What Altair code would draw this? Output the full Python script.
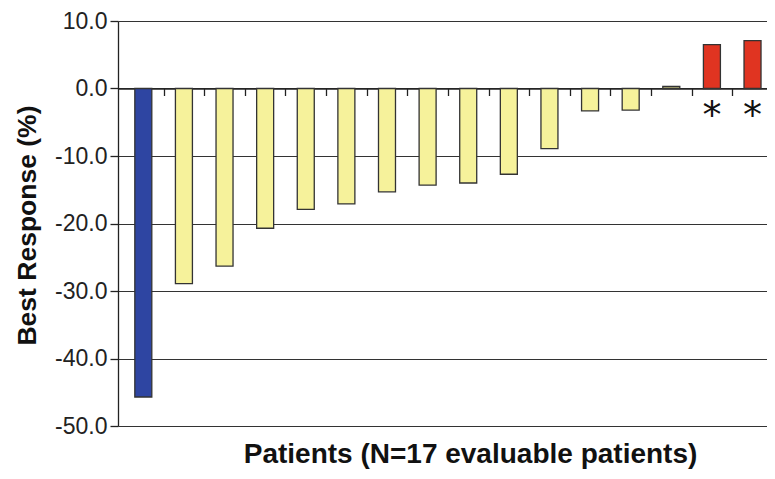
import altair as alt
import pandas as pd

patients = list(range(1, 17))
best_response = [-45.7, -28.9, -26.3, -20.7, -17.9, -17.1, -15.3, -14.3,
                 -14.0, -12.7, -8.9, -3.3, -3.2, 0.3, 6.5, 7.1]
group = ["blue"] + ["yellow"] * 13 + ["red"] * 2
star_patients = [15, 16]
star_text = ["*", "*"]
y_ticks = [-50, -40, -30, -20, -10, 0, 10]
x_tick_positions = [p + 0.5 for p in patients[:-1]]

df = pd.DataFrame({"patient": patients, "value": best_response, "group": group})
stars = pd.DataFrame({"patient": star_patients, "t": star_text, "y": [0, 0]})

H = 405
W = 649
BAND = 41.25
zero_offset = -H * 50 / 60

xscale = alt.Scale(domain=[0.5, 0.5 + W / BAND], nice=False, zero=False)

bars = alt.Chart(df).mark_bar(size=17, stroke="#333333", strokeWidth=1.3).encode(
    x=alt.X("patient:Q", scale=xscale,
            axis=alt.Axis(orient="bottom", offset=zero_offset, labels=False, ticks=True,
                          values=x_tick_positions,
                          tickSize=7, tickColor="#222222", tickWidth=1.3,
                          domain=True, domainColor="#222222", domainWidth=1.3, grid=False,
                          title="Patients (N=17 evaluable patients)",
                          titleFont="Liberation Sans", titleFontSize=28, titleFontWeight="bold",
                          titleColor="#111111", titleX=352, titleY=374,
                          titleBaseline="alphabetic",
                          titleAnchor="start", titleAlign="center")),
    y=alt.Y("value:Q", scale=alt.Scale(domain=[-50, 10], nice=False, zero=False),
            axis=alt.Axis(values=y_ticks, grid=True, gridColor="#333333", gridWidth=1.2,
                          domain=True, domainColor="#222222", domainWidth=1.3,
                          tickColor="#222222", tickSize=8, tickWidth=1.3,
                          labelFont="Liberation Sans", labelFontSize=23, labelColor="#222222",
                          labelPadding=3,
                          labelExpr="datum.value < 0 ? '-' + format(-datum.value, '.1f') : format(datum.value, '.1f')",
                          title="Best Response (%)", titleFont="Liberation Sans",
                          titleFontSize=26.5, titleFontWeight="bold", titleColor="#111111",
                          titleX=-91, titleY=204, titleBaseline="middle")),
    color=alt.Color("group:N", scale=alt.Scale(domain=["blue", "yellow", "red"],
                                               range=["#2E45A2", "#F6F29B", "#E03421"]),
                    legend=None),
)

star_marks = alt.Chart(stars).mark_text(font="DejaVu Sans", fontSize=38, color="#111111",
                                        baseline="top", dy=9).encode(
    x=alt.X("patient:Q", scale=xscale),
    y=alt.Y("y:Q"),
    text="t:N",
)

chart = alt.layer(bars, star_marks).properties(
    width=W, height=H,
    autosize=alt.AutoSizeParams(type="none"),
    padding={"left": 110, "top": 13, "right": 0, "bottom": 44},
).configure_view(stroke=None)

chart.save("out.html", embed_options={"renderer": "svg", "actions": False})
